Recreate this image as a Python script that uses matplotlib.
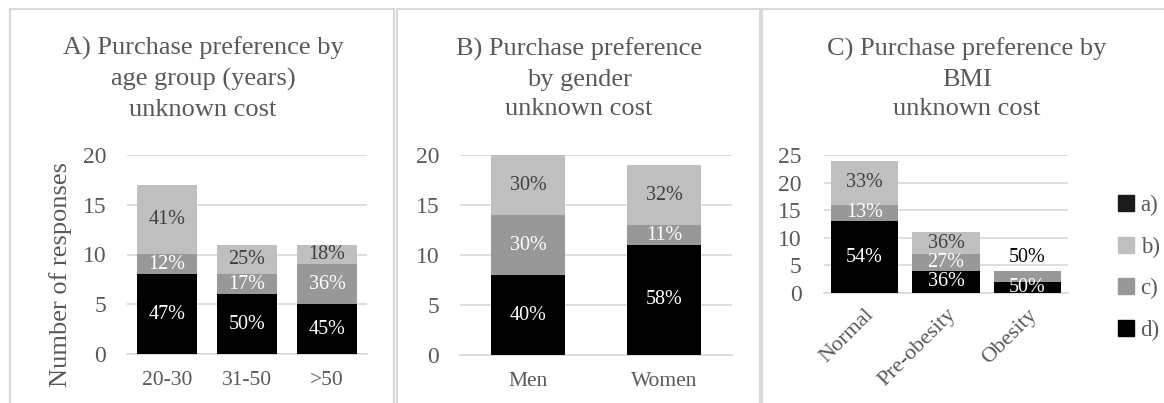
import numpy as np
import matplotlib.pyplot as plt
from matplotlib.patches import Rectangle, Patch

plt.rcParams['font.family'] = ['Liberation Serif', 'DejaVu Serif']

# Panel A: age group
age_groups = ['20-30', '31-50', '>50']
age_black = [8, 6, 5]
age_gray = [2, 2, 4]
age_light = [7, 3, 2]
age_pct_black = ['47%', '50%', '45%']
age_pct_gray = ['12%', '17%', '36%']
age_pct_light = ['41%', '25%', '18%']

# Panel B: gender
genders = ['Men', 'Women']
gen_black = [8, 11]
gen_gray = [6, 2]
gen_light = [6, 6]
gen_pct_black = ['40%', '58%']
gen_pct_gray = ['30%', '11%']
gen_pct_light = ['30%', '32%']

# Panel C: BMI
bmi_groups = ['Normal', 'Pre-obesity', 'Obesity']
bmi_black = [13, 4, 2]
bmi_gray = [3, 3, 2]
bmi_light = [8, 4, 0]
bmi_pct_black = ['54%', '36%', '50%']
bmi_pct_gray = ['13%', '27%', '']
bmi_pct_light = ['33%', '36%', '50%']

legend_labels = ['a)', 'b)', 'c)', 'd)']

BLACK = '#000000'
GRAY = '#989898'
LIGHT = '#bfbfbf'
TEXT = '#595959'
GRID = '#d9d9d9'

W, H = 1164, 403
fig = plt.figure(figsize=(W / 100, H / 100), dpi=100)


def px_axes(x0, x1, y_top, y_bot):
    return fig.add_axes([x0 / W, 1 - y_bot / H, (x1 - x0) / W, (y_bot - y_top) / H])


# panel borders
for x0, x1 in [(10, 394), (397, 760), (762, 1170)]:
    fig.add_artist(Rectangle((x0 / W, -0.05), (x1 - x0) / W, (H - 9) / H + 0.05,
                             transform=fig.transFigure, fill=False,
                             edgecolor=GRID, linewidth=1.5))


def stacked(ax, cats, black, gray, light, pb, pg, pl, width, ymax, step):
    x = np.arange(len(cats))
    black = np.array(black)
    gray = np.array(gray)
    light = np.array(light)
    ax.bar(x, black, width, color=BLACK, zorder=3)
    ax.bar(x, gray, width, bottom=black, color=GRAY, zorder=3)
    ax.bar(x, light, width, bottom=black + gray, color=LIGHT, zorder=3)
    for i in range(len(cats)):
        ax.text(x[i], black[i] / 2, pb[i], ha='center', va='center',
                color='white', fontsize=14.5, zorder=4)
        if pg[i]:
            ax.text(x[i], black[i] + gray[i] / 2, pg[i], ha='center', va='center',
                    color='white', fontsize=14.5, zorder=4)
        if light[i] > 0:
            ax.text(x[i], black[i] + gray[i] + light[i] / 2, pl[i], ha='center',
                    va='center', color='#404040', fontsize=14.5, zorder=4)
        elif pl[i]:
            ax.text(x[i], black[i] + gray[i] + 2.5, pl[i], ha='center',
                    va='center', color='black', fontsize=14.5, zorder=4)
    ax.set_xlim(-0.5, len(cats) - 0.5)
    ax.set_ylim(0, ymax)
    ax.set_yticks(np.arange(0, ymax + 1, step))
    ax.yaxis.grid(True, color=GRID, linewidth=1.2, zorder=0)
    ax.set_axisbelow(True)
    for s in ax.spines.values():
        s.set_visible(False)
    ax.spines['bottom'].set_visible(True)
    ax.spines['bottom'].set_color(GRID)
    ax.spines['bottom'].set_linewidth(1.2)
    ax.tick_params(length=0, labelcolor=TEXT)
    ax.tick_params(axis='y', labelsize=17)
    ax.tick_params(axis='x', labelsize=15.5)
    ax.set_xticks(x)
    ax.set_xticklabels(cats)


TITLE_KW = dict(ha='center', va='center', fontsize=19, color=TEXT, linespacing=1.45)

axA = px_axes(127, 367, 155, 354)
stacked(axA, age_groups, age_black, age_gray, age_light,
        age_pct_black, age_pct_gray, age_pct_light, 0.76, 20, 5)
axA.tick_params(axis='y', pad=15)
axA.tick_params(axis='x', pad=12)
axA.set_ylabel('Number of responses', fontsize=19, color=TEXT)
axA.yaxis.set_label_coords(-0.229, 0.397)
fig.text(203 / W, 1 - 79 / H, 'A) Purchase preference by\nage group (years)\nunknown cost',
         **TITLE_KW)

axB = px_axes(460, 732, 155, 355)
stacked(axB, genders, gen_black, gen_gray, gen_light,
        gen_pct_black, gen_pct_gray, gen_pct_light, 0.55, 20, 5)
axB.tick_params(axis='y', pad=15)
axB.tick_params(axis='x', pad=12)
fig.text(579 / W, 1 - 79 / H, 'B) Purchase preference\nby gender\nunknown cost',
         **TITLE_KW)

axC = px_axes(824, 1068, 155, 293)
stacked(axC, bmi_groups, bmi_black, bmi_gray, bmi_light,
        bmi_pct_black, bmi_pct_gray, bmi_pct_light, 0.83, 25, 5)
axC.tick_params(axis='y', pad=16)
axC.tick_params(axis='x', pad=9, labelsize=16)
for lab in axC.get_xticklabels():
    lab.set_rotation(45)
    lab.set_ha('right')
    lab.set_rotation_mode('anchor')
fig.text(967 / W, 1 - 79 / H, 'C) Purchase preference by\nBMI\nunknown cost',
         **TITLE_KW)

handles = [Patch(color='#1a1a1a'), Patch(color=LIGHT), Patch(color=GRAY), Patch(color=BLACK)]
fig.legend(handles, legend_labels, loc='center left',
           bbox_to_anchor=(1097 / W, 1 - 268 / H), frameon=False, fontsize=16.5,
           labelcolor=TEXT, handlelength=0.7, handleheight=0.7, handletextpad=0.3,
           labelspacing=0.9)

fig.savefig('out.png', dpi=100)
